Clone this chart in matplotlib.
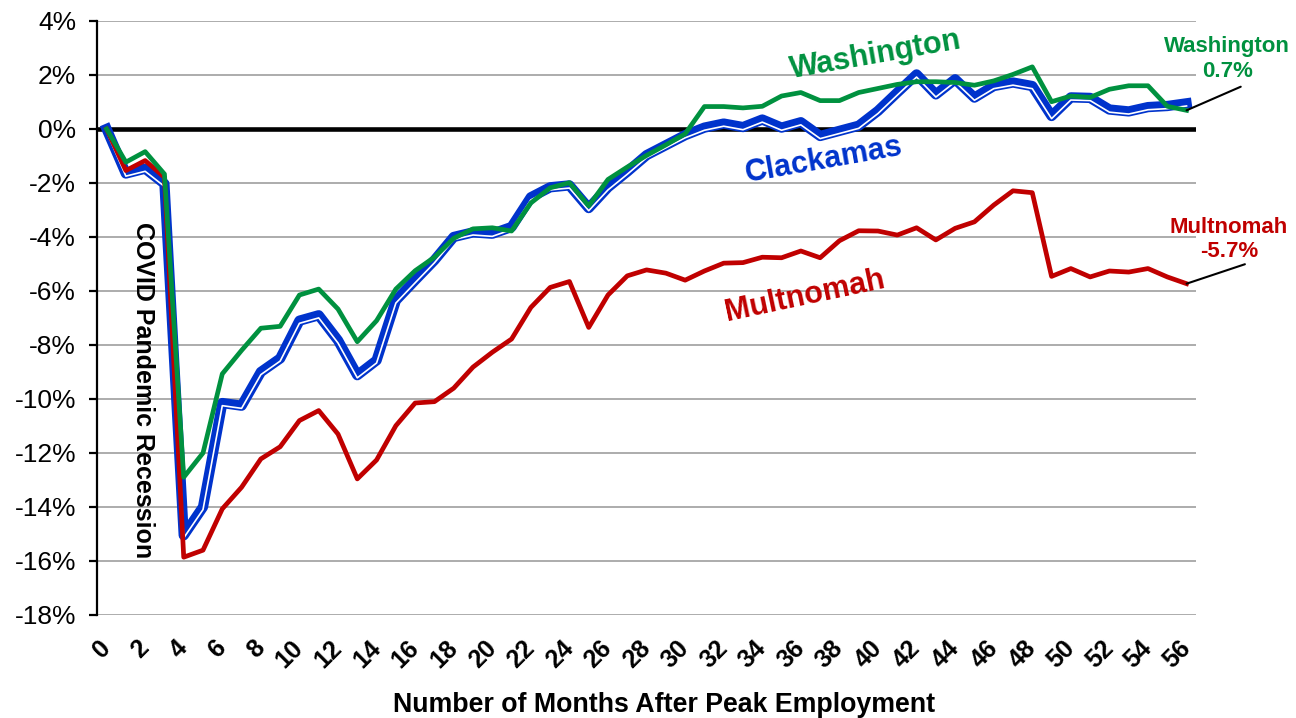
import matplotlib
matplotlib.use("Agg")
import matplotlib.pyplot as plt
import matplotlib.patheffects as pe
import matplotlib.transforms as mtransforms
from matplotlib.ticker import FuncFormatter, MultipleLocator

plt.rcParams["font.family"] = ["Liberation Sans", "DejaVu Sans"]

meses = list(range(57))

washington = [0, -1.23, -0.84, -1.67, -12.9, -12.0, -9.07, -8.2, -7.38, -7.31,
              -6.15, -5.93, -6.67, -7.88, -7.1, -5.93, -5.25, -4.75, -4.05, -3.7,
              -3.66, -3.78, -2.74, -2.18, -1.99, -2.85, -1.87, -1.41, -0.98, -0.59,
              -0.18, 0.83, 0.83, 0.78, 0.84, 1.22, 1.35, 1.05, 1.05, 1.35,
              1.5, 1.65, 1.75, 1.75, 1.72, 1.62, 1.78, 2.02, 2.3, 1.01,
              1.22, 1.17, 1.47, 1.6, 1.6, 0.84, 0.69]

clackamas = [0, -1.65, -1.47, -2.03, -15.05, -14.0, -10.15, -10.25, -9.0, -8.5,
             -7.1, -6.9, -7.83, -9.12, -8.57, -6.35, -5.6, -4.86, -4.0, -3.83,
             -3.88, -3.63, -2.53, -2.16, -2.09, -2.93, -2.16, -1.58, -0.97, -0.6,
             -0.23, 0.05, 0.2, 0.07, 0.35, 0.05, 0.25, -0.26, -0.07, 0.12,
             0.67, 1.35, 2.02, 1.28, 1.84, 1.16, 1.59, 1.72, 1.59, 0.48,
             1.17, 1.15, 0.72, 0.65, 0.81, 0.85, 0.95]

multnomah = [0, -1.54, -1.17, -1.79, -15.86, -15.6, -14.07, -13.27, -12.22, -11.77,
             -10.8, -10.43, -11.3, -12.96, -12.26, -10.99, -10.15, -10.1, -9.6, -8.82,
             -8.27, -7.78, -6.61, -5.87, -5.65, -7.35, -6.15, -5.44, -5.22, -5.34,
             -5.6, -5.26, -4.97, -4.95, -4.75, -4.77, -4.52, -4.77, -4.14, -3.77,
             -3.78, -3.93, -3.66, -4.11, -3.68, -3.44, -2.82, -2.29, -2.36, -5.46,
             -5.17, -5.48, -5.26, -5.3, -5.17, -5.48, -5.73]

VERDE = "#00913F"
AZUL = "#0033CC"
ROJO = "#C00000"

fig = plt.figure(figsize=(12.96, 7.18), dpi=100)
ax = fig.add_axes([0.0748, 0.1435, 0.8482, 0.8273])

ax.set_xlim(-0.5, 56.5)
ax.set_ylim(-18, 4)

# rejilla
ax.yaxis.set_major_locator(MultipleLocator(2))
ax.grid(axis="y", color="#A6A6A6", lw=1.3)
ax.axhline(0, color="black", lw=3.3, zorder=2)

# Clackamas: linea doble (gruesa + fina)
ax.plot(meses, clackamas, color=AZUL, lw=7.4, zorder=2.2, solid_joinstyle="round",
        path_effects=[pe.Stroke(linewidth=7.4, foreground=AZUL),
                      pe.Stroke(linewidth=1.2, foreground="white", offset=(0, -1.9))])
ax.plot(meses, multnomah, color=ROJO, lw=3.4, zorder=2.3, solid_joinstyle="round")
ax.plot(meses, washington, color=VERDE, lw=3.4, zorder=2.4, solid_joinstyle="round")

# ejes
for lado in ["top", "right", "bottom"]:
    ax.spines[lado].set_visible(False)
ax.spines["left"].set_linewidth(1.6)
ax.spines["left"].set_color("black")

ax.yaxis.set_major_formatter(FuncFormatter(lambda v, _: f"{int(round(v))}%"))
ax.tick_params(axis="y", direction="out", length=6, width=1.6, pad=9, labelsize=19)
ax.set_xticks(range(0, 57, 2))
ax.set_xticklabels([str(m) for m in range(0, 57, 2)], rotation=45,
                   ha="right", va="top", rotation_mode="anchor",
                   fontweight="bold", fontsize=18)
ax.tick_params(axis="x", length=0, pad=15)
desplaza = mtransforms.ScaledTranslation(-6 / 72, 0, fig.dpi_scale_trans)
for etiqueta in ax.get_xticklabels():
    etiqueta.set_transform(etiqueta.get_transform() + desplaza)
ax.set_xlabel("Number of Months After Peak Employment", fontsize=19.3,
              fontweight="bold", labelpad=12)
ax.xaxis.set_label_coords(0.516, -0.13)

# etiquetas de series
ax.text(39.9, 2.74, "Washington", color=VERDE, fontsize=22, fontweight="bold",
        rotation=10, ha="center", va="center")
ax.text(37.2, -1.15, "Clackamas", color=AZUL, fontsize=22, fontweight="bold",
        rotation=10, ha="center", va="center")
ax.text(36.2, -6.19, "Multnomah", color=ROJO, fontsize=22, fontweight="bold",
        rotation=12, ha="center", va="center")
ax.text(1.9, -9.67, "COVID Pandemic Recession", color="black", fontsize=18,
        fontweight="bold", rotation=-90, ha="center", va="center")

# valores finales
ax.text(58.1, 2.6, f"Washington\n{washington[-1]:.1f}%", color=VERDE, fontsize=16,
        fontweight="bold", ha="center", va="center", linespacing=1.25)
ax.text(58.2, -4.1, f"Multnomah\n{multnomah[-1]:.1f}%", color=ROJO, fontsize=16,
        fontweight="bold", ha="center", va="center", linespacing=1.2)
ax.annotate("", xy=(meses[-1], washington[-1]), xytext=(39, 17),
            textcoords="offset points", annotation_clip=False,
            arrowprops=dict(arrowstyle="-", color="black", lw=1.5,
                            shrinkA=0, shrinkB=0))
ax.annotate("", xy=(meses[-1], multnomah[-1]), xytext=(42, 14),
            textcoords="offset points", annotation_clip=False,
            arrowprops=dict(arrowstyle="-", color="black", lw=1.5,
                            shrinkA=0, shrinkB=0))

fig.savefig("out.png", dpi=100)
